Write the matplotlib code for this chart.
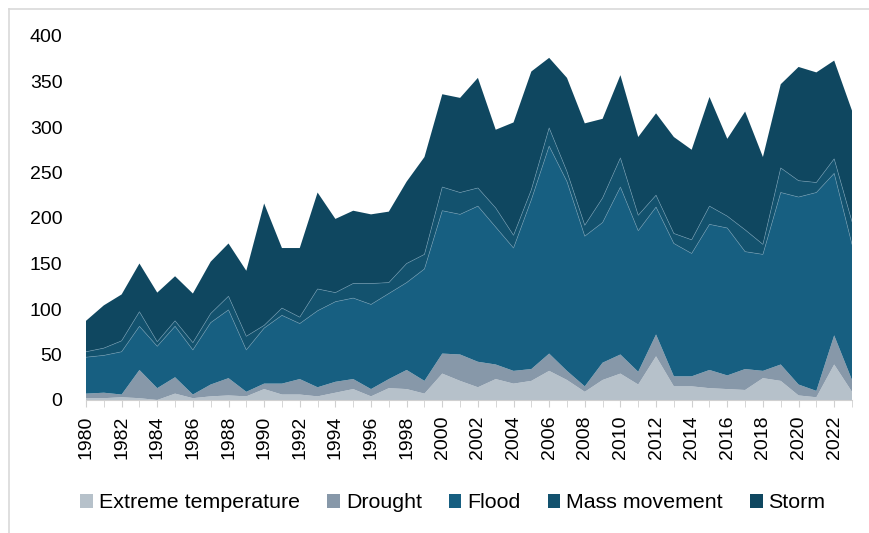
import numpy as np
import matplotlib
matplotlib.use('Agg')
import matplotlib.pyplot as plt
from matplotlib.patches import Patch
from matplotlib.lines import Line2D

years = np.arange(1980, 2024)

extreme_temp = [2, 2, 3, 2, 0, 7, 2, 4, 5, 4, 12, 6, 6, 4, 8, 12, 4, 13, 12, 7,
                29, 21, 14, 23, 18, 21, 32, 22, 9, 22, 29, 17, 48, 15, 15, 13, 12, 11, 24, 21,
                5, 3, 39, 9]
drought = [5, 6, 3, 31, 13, 18, 4, 13, 19, 5, 6, 12, 17, 10, 12, 11, 8, 10, 21, 14,
           22, 29, 28, 16, 14, 13, 19, 10, 6, 19, 21, 14, 24, 11, 11, 20, 15, 23, 8, 18,
           12, 7, 32, 13]
flood = [40, 41, 47, 48, 46, 56, 49, 68, 75, 46, 61, 75, 61, 84, 88, 89, 93, 94, 96, 123,
         157, 154, 171, 151, 135, 186, 228, 208, 165, 154, 184, 155, 140, 146, 135, 160, 162, 129, 128, 189,
         206, 218, 178, 149]
mass_movement = [6, 8, 12, 16, 5, 6, 8, 10, 15, 15, 3, 8, 7, 24, 10, 16, 23, 12, 21, 16,
                 26, 24, 20, 21, 14, 11, 20, 11, 12, 27, 32, 17, 13, 11, 15, 20, 13, 24, 11, 27,
                 18, 11, 16, 25]
storm = [34, 47, 51, 53, 54, 49, 54, 57, 58, 72, 134, 66, 76, 106, 81, 80, 76, 78, 90, 107,
         102, 104, 121, 86, 124, 130, 77, 103, 112, 87, 91, 86, 90, 106, 99, 120, 85, 130, 96, 92,
         125, 121, 108, 122]

labels = ['Extreme temperature', 'Drought', 'Flood', 'Mass movement', 'Storm']
colors = ['#b6c1ca', '#8798a9', '#175f81', '#13526e', '#0f4760']
series = [extreme_temp, drought, flood, mass_movement, storm]

plt.rcParams['font.family'] = ['Liberation Sans', 'DejaVu Sans']

fig = plt.figure(figsize=(8.69, 5.33), dpi=100)
ax = fig.add_axes([86/869, 1 - 400/533, (852 - 86)/869, (400 - 36)/533])

ax.stackplot(years, *series, colors=colors, linewidth=0)

# thin light separators above flood and mass movement layers
cum = np.cumsum(np.array(series), axis=0)
ax.plot(years, cum[2], color='#6f9bb3', lw=0.5, alpha=0.7)
ax.plot(years, cum[3], color='#6f9bb3', lw=0.5, alpha=0.7)

ax.set_xlim(1980, 2023)
ax.set_ylim(0, 400)
ax.set_yticks(np.arange(0, 401, 50))
ax.set_xticks(np.arange(1980, 2023, 2))
ax.set_xticks(years, minor=True)
ax.tick_params(axis='y', length=0, labelsize=14, pad=17)
ax.tick_params(axis='x', which='both', length=5, color='#d0d0d0', labelsize=14,
               labelrotation=90, pad=6)

for s in ['top', 'right', 'left']:
    ax.spines[s].set_visible(False)
ax.spines['bottom'].set_color('#d0d0d0')

handles = [Patch(facecolor=c, edgecolor='none') for c in colors]
fig.legend(handles, labels, loc='center', bbox_to_anchor=(453/869, 1 - 503/533),
           ncol=5, frameon=False, fontsize=15.4, handlelength=0.6, handleheight=0.6,
           handletextpad=0.28, columnspacing=1.25)

# light outer frame
fig.add_artist(Line2D([9/869, 1], [1 - 9/533, 1 - 9/533], color='#d9d9d9', lw=1.2))
fig.add_artist(Line2D([9/869, 9/869], [0, 1 - 9/533], color='#d9d9d9', lw=1.2))

fig.savefig('out.png', dpi=100)
